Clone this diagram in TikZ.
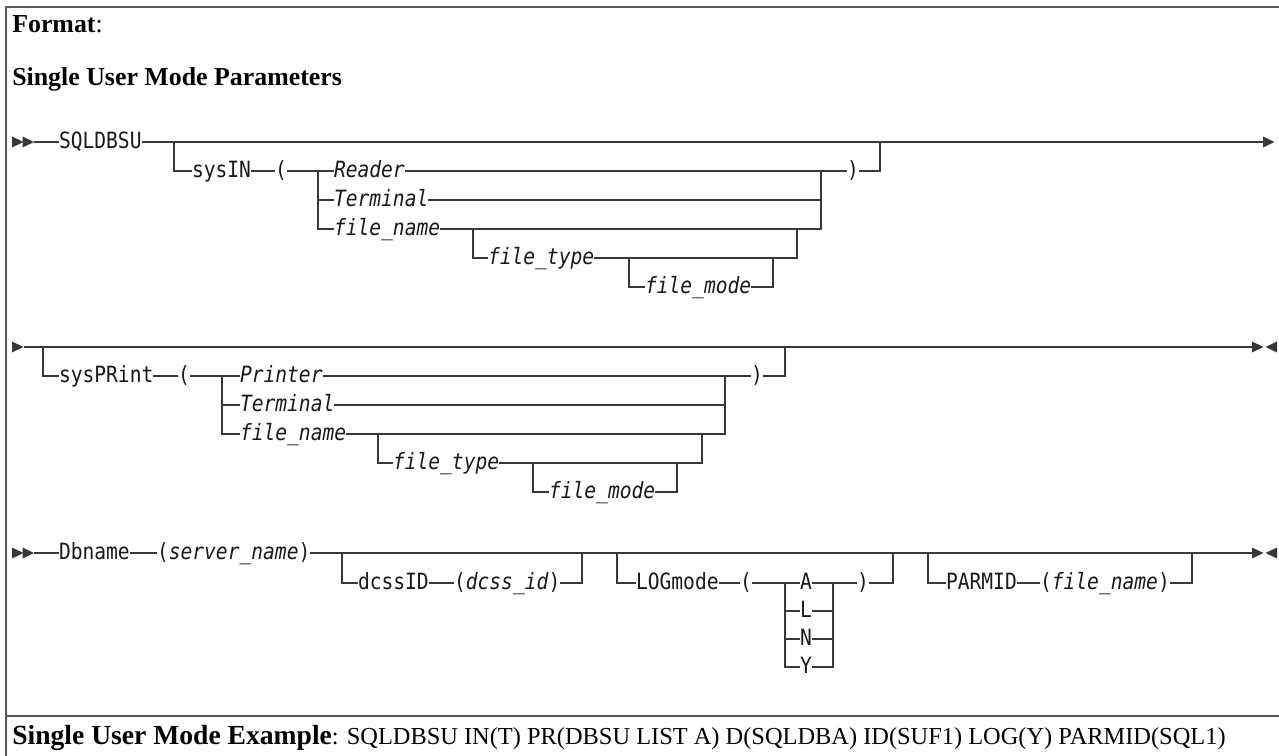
\documentclass[tikz,border=0pt]{standalone}
\usepackage{fontspec}
\setmainfont{Liberation Serif}
\newfontfamily\diamono[FakeStretch=0.875]{DejaVu Sans Mono}
\newcommand\diafont{\diamono\fontsize{16.8}{18}\selectfont}
\definecolor{linec}{gray}{0.22}
\definecolor{framec}{gray}{0.35}
\begin{document}
\begin{tikzpicture}[x=0.75pt,y=-0.75pt,
  rail/.style={draw=linec, line width=0.95pt},
  frame/.style={draw=framec, line width=1.4pt},
  kw/.style={font=\diafont, anchor=west, inner sep=0pt, outer sep=0pt, text=black!90,
    text height=10pt, text depth=0pt},
  var/.style={kw, font=\diafont\itshape},
  head/.style={anchor=base west, inner sep=0pt, font=\fontsize{19.4}{22}\selectfont, text=black},
  rtri/.pic={\fill[linec] (0,-5.5) -- (11.5,0) -- (0,5.5) -- cycle;},
  ltri/.pic={\fill[linec] (11.5,-5.5) -- (0,0) -- (11.5,5.5) -- cycle;}]
\useasboundingbox (0,0) rectangle (1279,756);
\fill[white] (0,0) rectangle (1279,756);
% frame
\draw[frame] (1279,7) -- (6,7) -- (6,756);
\draw[frame] (6,716) -- (1279,716);
% headings
\node[head] (fmt) at (12,33) {\textbf{Format}:};
\node[head] (sump) at (12,86) {\textbf{Single User Mode Parameters}};
\node[head] (ex) at (12,744) {{\fontsize{20.7}{22}\selectfont\textbf{Single User Mode Example}}{\fontsize{18.3}{22}\selectfont: SQLDBSU IN(T) PR(DBSU LIST A) D(SQLDBA) ID(SUF1) LOG(Y) PARMID(SQL1)}};

% ================= ROW 1 =================
\pic at (12,142) {rtri}; \pic at (22.5,142) {rtri};
\coordinate (s1) at (34,142);
\node[kw] (sqldbsu) at (59,142) {SQLDBSU};
\draw[rail] (s1) -- (sqldbsu.west);
\coordinate (e1) at (1263,142);
\pic at (1263,142) {rtri};
\draw[rail] (sqldbsu.east) -- (e1);
\coordinate (b1) at (174,142);
\node[kw] (sysin) at (192,171) {sysIN};
\draw[rail] (b1) |- (sysin.west);
\node[kw] (lp1) at (275,171) {(};
\draw[rail] (sysin.east) -- (lp1.west);
\node[var] (reader) at (334,171) {Reader};
\node[var] (term1) at (334,200) {Terminal};
\node[var] (fn1) at (334,229) {file\_name};
\draw[rail] (lp1.east) -- (reader.west);
\coordinate (c1l) at (318,171);
\draw[rail] (c1l) |- (term1.west);
\draw[rail] (c1l) |- (fn1.west);
\node[kw] (rp1) at (847,171) {)};
\draw[rail] (reader.east) -- (rp1.west);
\coordinate (c1r) at (821,171);
\draw[rail] (term1.east) -| (c1r);
\draw[rail] (fn1.east) -| (c1r);
\coordinate (k1) at (880,142);
\draw[rail] (rp1.east) -| (k1);
\coordinate (b1t) at (473,229);
\node[var] (ft1) at (488,258) {file\_type};
\draw[rail] (b1t) |- (ft1.west);
\coordinate (k1t) at (797,229);
\draw[rail] (ft1.east) -| (k1t);
\coordinate (b1m) at (629,258);
\node[var] (fm1) at (645,287) {file\_mode};
\draw[rail] (b1m) |- (fm1.west);
\coordinate (k1m) at (773,258);
\draw[rail] (fm1.east) -| (k1m);

% ================= ROW 2 =================
\pic at (12,347) {rtri};
\coordinate (s2) at (23.5,347);
\coordinate (e2) at (1252,347);
\draw[rail] (s2) -- (e2);
\pic at (1252,347) {rtri}; \pic at (1265.5,347) {ltri};
\coordinate (b2) at (43,347);
\node[kw] (sysprint) at (59,376) {sysPRint};
\draw[rail] (b2) |- (sysprint.west);
\node[kw] (lp2) at (178,376) {(};
\draw[rail] (sysprint.east) -- (lp2.west);
\node[var] (printer) at (240,376) {Printer};
\node[var] (term2) at (240,405) {Terminal};
\node[var] (fn2) at (240,434) {file\_name};
\draw[rail] (lp2.east) -- (printer.west);
\coordinate (c2l) at (222,376);
\draw[rail] (c2l) |- (term2.west);
\draw[rail] (c2l) |- (fn2.west);
\node[kw] (rp2) at (751,376) {)};
\draw[rail] (printer.east) -- (rp2.west);
\coordinate (c2r) at (725,376);
\draw[rail] (term2.east) -| (c2r);
\draw[rail] (fn2.east) -| (c2r);
\coordinate (k2) at (785,347);
\draw[rail] (rp2.east) -| (k2);
\coordinate (b2t) at (378,434);
\node[var] (ft2) at (393,463) {file\_type};
\draw[rail] (b2t) |- (ft2.west);
\coordinate (k2t) at (702,434);
\draw[rail] (ft2.east) -| (k2t);
\coordinate (b2m) at (533,463);
\node[var] (fm2) at (549,492) {file\_mode};
\draw[rail] (b2m) |- (fm2.west);
\coordinate (k2m) at (677,463);
\draw[rail] (fm2.east) -| (k2m);

% ================= ROW 3 =================
\pic at (12,553) {rtri}; \pic at (22.5,553) {rtri};
\coordinate (s3) at (34,553);
\node[kw] (dbname) at (59,553) {Dbname};
\draw[rail] (s3) -- (dbname.west);
\node[kw] (srv) at (157,553) {(\textit{server\_name})};
\draw[rail] (dbname.east) -- (srv.west);
\coordinate (e3) at (1252,553);
\draw[rail] (srv.east) -- (e3);
\pic at (1252,553) {rtri}; \pic at (1265.5,553) {ltri};
% dcssID
\coordinate (b3d) at (342,553);
\node[kw] (dcssid) at (358,583) {dcssID};
\draw[rail] (b3d) |- (dcssid.west);
\node[kw] (dcssv) at (454,583) {(\textit{dcss\_id})};
\draw[rail] (dcssid.east) -- (dcssv.west);
\coordinate (k3d) at (582,553);
\draw[rail] (dcssv.east) -| (k3d);
% LOGmode
\coordinate (b3l) at (617,553);
\node[kw] (logmode) at (636,583) {LOGmode};
\draw[rail] (b3l) |- (logmode.west);
\node[kw] (lp3) at (740,583) {(};
\draw[rail] (logmode.east) -- (lp3.west);
\node[kw] (la) at (800,583) {A};
\node[kw] (ll) at (800,611) {L};
\node[kw] (ln) at (800,639) {N};
\node[kw] (ly) at (800,667) {Y};
\draw[rail] (lp3.east) -- (la.west);
\coordinate (c3l) at (785,583);
\draw[rail] (c3l) |- (ll.west);
\draw[rail] (c3l) |- (ln.west);
\draw[rail] (c3l) |- (ly.west);
\node[kw] (rp3) at (857,583) {)};
\draw[rail] (la.east) -- (rp3.west);
\coordinate (c3r) at (833,583);
\draw[rail] (ll.east) -| (c3r);
\draw[rail] (ln.east) -| (c3r);
\draw[rail] (ly.east) -| (c3r);
\coordinate (k3l) at (893,553);
\draw[rail] (rp3.east) -| (k3l);
% PARMID
\coordinate (b3p) at (928,553);
\node[kw] (parmid) at (946,583) {PARMID};
\draw[rail] (b3p) |- (parmid.west);
\node[kw] (parmv) at (1040,583) {(\textit{file\_name})};
\draw[rail] (parmid.east) -- (parmv.west);
\coordinate (k3p) at (1192,553);
\draw[rail] (parmv.east) -| (k3p);
\end{tikzpicture}
\end{document}
